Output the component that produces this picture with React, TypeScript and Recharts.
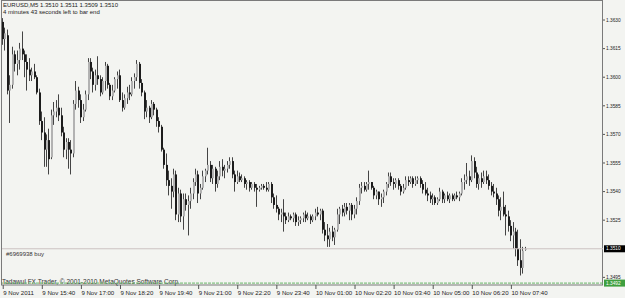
import { ComposedChart, Bar, XAxis, YAxis, ReferenceLine } from 'recharts';

const symbolTitle = 'EURUSD,M5  1.3510 1.3511 1.3509 1.3510';
const timerText = '4 minutes 43 seconds left to bar end';
const orderText = '#6969938 buy';
const footerText = 'Tadawul FX Trader, \u00a9 2001-2010 MetaQuotes Software Corp.';

const timeLabels = [
  '9 Nov 2011', '9 Nov 15:40', '9 Nov 17:00', '9 Nov 18:20', '9 Nov 19:40',
  '9 Nov 21:00', '9 Nov 22:20', '9 Nov 23:40', '10 Nov 01:00', '10 Nov 02:20',
  '10 Nov 03:40', '10 Nov 05:00', '10 Nov 06:20', '10 Nov 07:40',
];
const priceTicks = [1.3495, 1.3525, 1.354, 1.3555, 1.357, 1.3585, 1.36, 1.3615, 1.363];
const bidPrice = 1.351;
const orderPrice = 1.3492;

// M5 candles: open, high, low, close
const candles: number[][] = [
  [1.3629, 1.3631, 1.3617, 1.3620], [1.3620, 1.3626, 1.3614, 1.3623], [1.3622, 1.3625, 1.3591, 1.3593],
  [1.3593, 1.3601, 1.3576, 1.3596], [1.3596, 1.3616, 1.3594, 1.3612], [1.3612, 1.3614, 1.3603, 1.3607],
  [1.3607, 1.3614, 1.3601, 1.3609], [1.3609, 1.3618, 1.3604, 1.3615], [1.3615, 1.3624, 1.3609, 1.3612],
  [1.3612, 1.3614, 1.3600, 1.3608], [1.3608, 1.3612, 1.3593, 1.3604], [1.3604, 1.3610, 1.3598, 1.3601],
  [1.3601, 1.3605, 1.3598, 1.3603], [1.3603, 1.3607, 1.3599, 1.3600], [1.3600, 1.3601, 1.3591, 1.3592],
  [1.3592, 1.3594, 1.3575, 1.3577], [1.3577, 1.3582, 1.3567, 1.3571], [1.3571, 1.3579, 1.3553, 1.3562],
  [1.3562, 1.3570, 1.3553, 1.3567], [1.3567, 1.3573, 1.3549, 1.3557], [1.3558, 1.3583, 1.3557, 1.3580],
  [1.3580, 1.3587, 1.3575, 1.3582], [1.3582, 1.3588, 1.3579, 1.3584], [1.3584, 1.3591, 1.3577, 1.3580],
  [1.3580, 1.3584, 1.3569, 1.3571], [1.3571, 1.3574, 1.3558, 1.3562], [1.3562, 1.3568, 1.3557, 1.3566],
  [1.3566, 1.3568, 1.3552, 1.3562], [1.3562, 1.3567, 1.3549, 1.3560], [1.3560, 1.3588, 1.3558, 1.3586],
  [1.3586, 1.3598, 1.3583, 1.3593], [1.3593, 1.3595, 1.3584, 1.3588], [1.3588, 1.3591, 1.3576, 1.3579],
  [1.3579, 1.3586, 1.3577, 1.3583], [1.3583, 1.3593, 1.3582, 1.3591], [1.3591, 1.3610, 1.3588, 1.3608],
  [1.3608, 1.3610, 1.3599, 1.3603], [1.3603, 1.3605, 1.3592, 1.3596], [1.3596, 1.3604, 1.3593, 1.3601],
  [1.3601, 1.3611, 1.3596, 1.3599], [1.3599, 1.3601, 1.3590, 1.3592], [1.3592, 1.3600, 1.3591, 1.3598],
  [1.3598, 1.3608, 1.3593, 1.3606], [1.3606, 1.3607, 1.3594, 1.3596], [1.3596, 1.3597, 1.3588, 1.3590],
  [1.3590, 1.3596, 1.3588, 1.3593], [1.3593, 1.3600, 1.3592, 1.3599], [1.3599, 1.3603, 1.3594, 1.3601],
  [1.3601, 1.3604, 1.3587, 1.3588], [1.3588, 1.3592, 1.3582, 1.3584], [1.3584, 1.3591, 1.3583, 1.3589],
  [1.3589, 1.3595, 1.3586, 1.3592], [1.3592, 1.3596, 1.3588, 1.3591], [1.3591, 1.3600, 1.3590, 1.3598],
  [1.3598, 1.3602, 1.3594, 1.3600], [1.3600, 1.3609, 1.3598, 1.3607], [1.3607, 1.3608, 1.3594, 1.3597],
  [1.3597, 1.3599, 1.3590, 1.3592], [1.3592, 1.3593, 1.3578, 1.3582], [1.3582, 1.3588, 1.3579, 1.3584],
  [1.3584, 1.3585, 1.3576, 1.3579], [1.3579, 1.3588, 1.3578, 1.3586], [1.3586, 1.3587, 1.3580, 1.3583],
  [1.3583, 1.3584, 1.3574, 1.3577], [1.3577, 1.3579, 1.3571, 1.3574], [1.3574, 1.3575, 1.3561, 1.3562],
  [1.3562, 1.3563, 1.3552, 1.3554], [1.3554, 1.3560, 1.3543, 1.3546], [1.3546, 1.3551, 1.3538, 1.3543],
  [1.3543, 1.3547, 1.3531, 1.3540], [1.3540, 1.3552, 1.3537, 1.3549], [1.3549, 1.3551, 1.3525, 1.3528],
  [1.3528, 1.3542, 1.3524, 1.3539], [1.3539, 1.3541, 1.3524, 1.3527], [1.3527, 1.3539, 1.3520, 1.3536],
  [1.3536, 1.3539, 1.3530, 1.3533], [1.3533, 1.3538, 1.3517, 1.3535], [1.3535, 1.3542, 1.3531, 1.3539],
  [1.3539, 1.3547, 1.3536, 1.3545], [1.3545, 1.3552, 1.3543, 1.3549], [1.3549, 1.3551, 1.3534, 1.3539],
  [1.3539, 1.3544, 1.3536, 1.3542], [1.3542, 1.3551, 1.3541, 1.3548], [1.3548, 1.3552, 1.3545, 1.3551],
  [1.3551, 1.3563, 1.3549, 1.3554], [1.3554, 1.3556, 1.3545, 1.3547], [1.3547, 1.3554, 1.3544, 1.3552],
  [1.3552, 1.3553, 1.3540, 1.3544], [1.3544, 1.3551, 1.3542, 1.3548], [1.3548, 1.3556, 1.3546, 1.3553],
  [1.3553, 1.3557, 1.3548, 1.3551], [1.3551, 1.3554, 1.3547, 1.3552], [1.3552, 1.3556, 1.3550, 1.3554],
  [1.3554, 1.3558, 1.3552, 1.3556], [1.3556, 1.3558, 1.3547, 1.3549], [1.3549, 1.3551, 1.3540, 1.3545],
  [1.3545, 1.3551, 1.3544, 1.3548], [1.3548, 1.3550, 1.3545, 1.3546], [1.3546, 1.3549, 1.3545, 1.3547],
  [1.3547, 1.3548, 1.3542, 1.3544], [1.3544, 1.3546, 1.3541, 1.3545], [1.3545, 1.3546, 1.3540, 1.3542],
  [1.3542, 1.3545, 1.3541, 1.3544], [1.3544, 1.3545, 1.3540, 1.3542], [1.3542, 1.3544, 1.3532, 1.3541],
  [1.3541, 1.3543, 1.3540, 1.3542], [1.3542, 1.3544, 1.3541, 1.3543], [1.3543, 1.3544, 1.3541, 1.3542],
  [1.3542, 1.3545, 1.3540, 1.3541], [1.3541, 1.3545, 1.3540, 1.3544], [1.3544, 1.3545, 1.3534, 1.3537],
  [1.3537, 1.3539, 1.3531, 1.3533], [1.3533, 1.3538, 1.3529, 1.3531], [1.3531, 1.3532, 1.3525, 1.3528],
  [1.3528, 1.3531, 1.3524, 1.3529], [1.3529, 1.3536, 1.3519, 1.3527], [1.3527, 1.3529, 1.3523, 1.3525],
  [1.3525, 1.3529, 1.3524, 1.3527], [1.3527, 1.3528, 1.3525, 1.3526], [1.3526, 1.3529, 1.3524, 1.3528],
  [1.3528, 1.3529, 1.3522, 1.3524], [1.3524, 1.3527, 1.3522, 1.3525], [1.3525, 1.3527, 1.3523, 1.3526],
  [1.3526, 1.3529, 1.3524, 1.3528], [1.3528, 1.3530, 1.3524, 1.3526], [1.3526, 1.3529, 1.3525, 1.3527],
  [1.3527, 1.3528, 1.3523, 1.3525], [1.3525, 1.3528, 1.3524, 1.3527], [1.3527, 1.3531, 1.3525, 1.3529],
  [1.3529, 1.3532, 1.3527, 1.3528], [1.3528, 1.3531, 1.3525, 1.3530], [1.3530, 1.3531, 1.3518, 1.3520],
  [1.3520, 1.3524, 1.3514, 1.3517], [1.3517, 1.3523, 1.3511, 1.3515], [1.3515, 1.3521, 1.3511, 1.3519],
  [1.3519, 1.3522, 1.3514, 1.3516], [1.3516, 1.3521, 1.3512, 1.3520], [1.3520, 1.3531, 1.3519, 1.3528],
  [1.3528, 1.3532, 1.3523, 1.3531], [1.3531, 1.3533, 1.3527, 1.3529], [1.3529, 1.3534, 1.3527, 1.3532],
  [1.3532, 1.3534, 1.3528, 1.3530], [1.3530, 1.3534, 1.3525, 1.3533], [1.3533, 1.3534, 1.3525, 1.3528],
  [1.3528, 1.3533, 1.3526, 1.3531], [1.3531, 1.3537, 1.3528, 1.3535], [1.3535, 1.3544, 1.3533, 1.3542],
  [1.3542, 1.3545, 1.3539, 1.3543], [1.3543, 1.3545, 1.3540, 1.3541], [1.3541, 1.3545, 1.3540, 1.3544],
  [1.3544, 1.3551, 1.3541, 1.3545], [1.3545, 1.3545, 1.3541, 1.3542], [1.3542, 1.3543, 1.3536, 1.3538],
  [1.3538, 1.3541, 1.3536, 1.3540], [1.3540, 1.3540, 1.3533, 1.3536], [1.3536, 1.3539, 1.3532, 1.3537],
  [1.3537, 1.3541, 1.3534, 1.3540], [1.3540, 1.3545, 1.3538, 1.3544], [1.3544, 1.3550, 1.3542, 1.3548],
  [1.3548, 1.3550, 1.3543, 1.3545], [1.3545, 1.3547, 1.3541, 1.3544], [1.3544, 1.3547, 1.3542, 1.3546],
  [1.3546, 1.3547, 1.3541, 1.3543], [1.3543, 1.3544, 1.3538, 1.3540], [1.3540, 1.3544, 1.3539, 1.3542],
  [1.3542, 1.3548, 1.3541, 1.3546], [1.3546, 1.3548, 1.3543, 1.3545], [1.3545, 1.3548, 1.3544, 1.3547],
  [1.3547, 1.3548, 1.3542, 1.3544], [1.3544, 1.3548, 1.3543, 1.3546], [1.3546, 1.3548, 1.3544, 1.3547],
  [1.3547, 1.3548, 1.3542, 1.3544], [1.3544, 1.3546, 1.3539, 1.3541], [1.3541, 1.3545, 1.3538, 1.3539],
  [1.3539, 1.3542, 1.3535, 1.3538], [1.3538, 1.3540, 1.3534, 1.3536], [1.3536, 1.3539, 1.3533, 1.3537],
  [1.3537, 1.3538, 1.3533, 1.3534], [1.3534, 1.3537, 1.3533, 1.3536], [1.3536, 1.3542, 1.3535, 1.3540],
  [1.3540, 1.3541, 1.3534, 1.3536], [1.3536, 1.3539, 1.3534, 1.3538], [1.3538, 1.3540, 1.3535, 1.3536],
  [1.3536, 1.3539, 1.3534, 1.3538], [1.3538, 1.3539, 1.3535, 1.3536], [1.3536, 1.3539, 1.3535, 1.3538],
  [1.3538, 1.3540, 1.3536, 1.3537], [1.3537, 1.3540, 1.3535, 1.3539], [1.3539, 1.3547, 1.3538, 1.3545],
  [1.3545, 1.3549, 1.3541, 1.3546], [1.3546, 1.3555, 1.3544, 1.3548], [1.3548, 1.3551, 1.3543, 1.3546],
  [1.3546, 1.3559, 1.3545, 1.3556], [1.3556, 1.3558, 1.3547, 1.3550], [1.3550, 1.3553, 1.3542, 1.3544],
  [1.3544, 1.3549, 1.3541, 1.3547], [1.3547, 1.3550, 1.3542, 1.3545], [1.3545, 1.3551, 1.3544, 1.3548],
  [1.3548, 1.3551, 1.3544, 1.3546], [1.3546, 1.3549, 1.3541, 1.3543], [1.3543, 1.3545, 1.3538, 1.3540],
  [1.3540, 1.3544, 1.3537, 1.3539], [1.3539, 1.3542, 1.3533, 1.3536], [1.3536, 1.3538, 1.3527, 1.3530],
  [1.3530, 1.3537, 1.3525, 1.3532], [1.3532, 1.3540, 1.3527, 1.3528], [1.3528, 1.3533, 1.3517, 1.3527],
  [1.3527, 1.3530, 1.3519, 1.3522], [1.3522, 1.3525, 1.3514, 1.3517], [1.3517, 1.3524, 1.3510, 1.3519],
  [1.3519, 1.3521, 1.3506, 1.3510], [1.3510, 1.3520, 1.3501, 1.3504], [1.3504, 1.3515, 1.3496, 1.3500],
  [1.3500, 1.3511, 1.3497, 1.3509], [1.3510, 1.3511, 1.3509, 1.3510],
];

const LABEL_STEP = 16; // one time label every 80 minutes
const EMPTY_SLOTS = 31; // chart shift on the right

const rows = [
  ...candles.map((c, i) => ({ idx: i, open: c[0], high: c[1], low: c[2], close: c[3] })),
  ...Array.from({ length: EMPTY_SLOTS }, (_, k) => ({ idx: candles.length + k })),
];

const FONT = 'Liberation Sans, Arial, sans-serif';
const BG = '#f3f4f1';

function Candle(props: any) {
  const { x, y, width, height, payload } = props;
  if (payload == null || payload.high == null) return null;
  const top = Math.min(y, y + height);
  const span = Math.abs(height);
  const range = payload.high - payload.low;
  const py = (v: number) => (range ? top + ((payload.high - v) / range) * span : top);
  const cx = Math.round(x + width / 2);
  const up = payload.close >= payload.open;
  const bTop = py(Math.max(payload.open, payload.close));
  const bBot = py(Math.min(payload.open, payload.close));
  return (
    <g>
      <rect x={cx - 1} y={top} width={1} height={Math.max(span, 1)} fill="#444" />
      <rect
        x={cx - 1}
        y={bTop}
        width={2}
        height={Math.max(bBot - bTop, 1)}
        fill={up ? '#b2b2b2' : '#1c1c1c'}
      />
    </g>
  );
}

function TimeTick(props: any) {
  const { x, y, payload } = props;
  const i = payload.value;
  if (i % LABEL_STEP !== 0 || i / LABEL_STEP >= timeLabels.length) return null;
  return (
    <g>
      <line x1={x} x2={x} y1={y} y2={y + 4} stroke="#555" />
      <text x={x} y={y + 10} fontSize={6.1} fontFamily={FONT} fill="#222">
        {timeLabels[i / LABEL_STEP]}
      </text>
    </g>
  );
}

function PriceTick(props: any) {
  const { x, y, payload } = props;
  return (
    <g>
      <line x1={x} x2={x + 2} y1={y} y2={y} stroke="#555" />
      <text x={x + 3} y={y + 1.7} fontSize={4.8} fontFamily={FONT} fill="#222">
        {payload.value.toFixed(4)}
      </text>
    </g>
  );
}

function PriceBox(props: any) {
  const { viewBox, text, fill } = props;
  if (!viewBox) return null;
  const x = viewBox.x + viewBox.width + 1;
  const y = viewBox.y;
  return (
    <g>
      <rect x={x} y={y - 3.5} width={21} height={7} fill={fill} />
      <text x={x + 2} y={y + 1.7} fontSize={4.8} fontFamily={FONT} fill="#fff">
        {text}
      </text>
    </g>
  );
}

export default function App() {
  return (
    <div style={{ position: 'absolute', left: 0, top: 0, width: 625, height: 298, background: BG }}>
      <ComposedChart
        width={625}
        height={298}
        data={rows}
        margin={{ top: 0, right: 0, bottom: 0, left: 2 }}
        barCategoryGap={0}
      >
        <rect x={1.5} y={0.5} width={601} height={284.5} fill="none" stroke="#7a7a7a" />
        <XAxis
          dataKey="idx"
          type="category"
          interval={0}
          height={13}
          tickSize={0}
          tickMargin={0}
          tickLine={false}
          axisLine={false}
          tick={<TimeTick />}
        />
        <YAxis
          orientation="right"
          width={22}
          type="number"
          domain={[1.3491, 1.36405]}
          allowDataOverflow
          ticks={priceTicks}
          interval={0}
          tickSize={0}
          tickMargin={0}
          tickLine={false}
          axisLine={false}
          tick={<PriceTick />}
        />
        <ReferenceLine
          y={orderPrice}
          stroke="#67b567"
          strokeDasharray="3 1"
          label={<PriceBox text="1.3492" fill="#3f9f3f" />}
        />
        <ReferenceLine
          y={bidPrice}
          stroke="#cbc2c2"
          label={<PriceBox text="1.3510" fill="#000" />}
        />
        <Bar
          dataKey={(d: any) => (d.high == null ? null : [d.low, d.high])}
          shape={<Candle />}
          isAnimationActive={false}
        />
        <text x={3} y={7} fontSize={6} fontFamily={FONT} fill="#222">{symbolTitle}</text>
        <text x={3} y={14} fontSize={6} fontFamily={FONT} fill="#222">{timerText}</text>
        <text x={6} y={256} fontSize={6} fontFamily={FONT} fill="#333">{orderText}</text>
        <text x={2} y={284} fontSize={6.5} fontFamily={FONT} fill="#333">{footerText}</text>
      </ComposedChart>
    </div>
  );
}
